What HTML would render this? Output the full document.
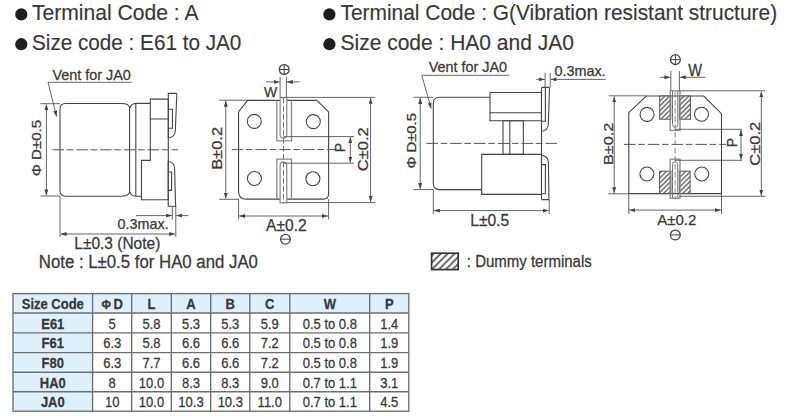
<!DOCTYPE html>
<html><head><meta charset="utf-8"><style>
html,body{margin:0;padding:0;background:#fff;}
body{width:788px;height:416px;overflow:hidden;position:relative;}
svg{position:absolute;left:0;top:0;}
text{font-family:"Liberation Sans",sans-serif;fill:#383838;stroke:#383838;stroke-width:0.25px;}
.t{font-size:20.6px;stroke-width:0.15px;}
.o{fill:none;stroke:#444;stroke-width:1.1;}
.g{fill:none;stroke:#8a8a8a;stroke-width:1.1;}
.d{fill:none;stroke:#555;stroke-width:0.9;}
.c{fill:none;stroke:#555;stroke-width:1;stroke-dasharray:11.5 2.7 6.6 3;}
.a{fill:#444;stroke:none;}
.lb{font-size:15px;}
.tb text{font-size:13px;text-anchor:middle;transform-box:fill-box;transform-origin:50% 50%;transform:scaleY(1.1);}
.sy{transform-box:fill-box;transform-origin:50% 50%;transform:scaleY(1.08);}
.tb .b{font-weight:bold;}
</style></head><body>
<svg width="788" height="416" viewBox="0 0 788 416">
<defs>
<marker id="ar" viewBox="0 0 6 4" refX="6" refY="2" markerWidth="6" markerHeight="4" orient="auto" markerUnits="userSpaceOnUse">
<path d="M0,0 L6,2 L0,4 Z" fill="#444"/>
</marker>
<pattern id="hatch" width="3.4" height="3.4" patternUnits="userSpaceOnUse" patternTransform="rotate(45)">
<rect width="3.4" height="3.4" fill="#fff"/>
<line x1="0.8" y1="0" x2="0.8" y2="3.4" stroke="#707070" stroke-width="1.5"/>
</pattern>
<pattern id="hatch2" width="4.9" height="4.9" patternUnits="userSpaceOnUse" patternTransform="rotate(45)">
<rect width="4.9" height="4.9" fill="#fff"/>
<line x1="1" y1="0" x2="1" y2="4.9" stroke="#555" stroke-width="1.7"/>
</pattern>
</defs>

<!-- Titles -->
<circle cx="21.3" cy="14.4" r="6.1" fill="#1e1e1e"/>
<text class="t" transform="translate(32,19.6) scale(1,1.07)" style="font-size:21.1px">Terminal Code : A</text>
<circle cx="21.3" cy="44.2" r="6.1" fill="#1e1e1e"/>
<text class="t" transform="translate(32,49.6) scale(1,1.08)" style="font-size:20.7px">Size code : E61 to JA0</text>
<circle cx="329.4" cy="14.4" r="6.1" fill="#1e1e1e"/>
<text class="t" transform="translate(340.5,19.6) scale(1,1.07)" style="font-size:20.93px">Terminal Code : G(Vibration resistant structure)</text>
<circle cx="329.4" cy="44.2" r="6.1" fill="#1e1e1e"/>
<text class="t" transform="translate(340.5,49.6) scale(1,1.07)" style="font-size:21px">Size code : HA0 and JA0</text>

<!-- ===== Left side view (A) ===== -->
<text class="sy" x="52.5" y="79.4" style="font-size:14.4px">Vent for JA0</text>
<path class="d" d="M48,82.3 H131.7"/>
<path class="d" d="M48,82.3 L56.6,116.5" marker-end="url(#ar)"/>
<!-- body -->
<path class="o" d="M65.5,103.5 H121.5 Q129.6,103.5 129.6,108.2 V191.6 Q129.6,196.2 121.5,196.2 H65.5 Q60,196.2 60,190.5 V109.2 Q60,103.5 65.5,103.5 Z"/>
<path class="o" d="M129.6,108.2 Q131.2,103.6 135.8,103.4 H150.3 M129.6,191.6 Q131.2,196.1 135.8,196.2 H141.5 M135.8,103.4 V196.2"/>
<path class="o" d="M150.3,160.4 V99.1 H168.3 V199.8 H141.5 V160.4 Z M150.3,119 H168.3"/>
<path class="o" d="M168.3,137.7 V93.4 H176.3 Q176.9,93.6 176.8,94.6 L175.3,131 Q174.8,137.2 168.3,137.7 Z M168.3,109.2 H172.4 V128.3 H168.3"/>
<path class="o" d="M168.2,161.5 Q174.2,162 174.6,168.5 L175.6,206.2 H168.2 Z M168.2,172 H171.6 V190.4 H168.2"/>
<path class="c" d="M52.5,149.8 H178"/>
<!-- D dim -->
<path class="d" d="M40.5,103.7 H60 M40.5,196 H60"/>
<path class="d" d="M46.4,150 V104.3" marker-end="url(#ar)"/>
<path class="d" d="M46.4,150 V195.4" marker-end="url(#ar)"/>
<text transform="translate(40.8,148) rotate(-90) scale(1.26,1)" text-anchor="middle" style="font-size:12px">Φ D±0.5</text>
<!-- L dim -->
<path class="d" d="M60,196 V237 M175.8,206 V237"/>
<path class="d" d="M118,234 H60.6" marker-end="url(#ar)"/>
<path class="d" d="M118,234 H175.2" marker-end="url(#ar)"/>
<text class="sy" x="74.3" y="248.2" style="font-size:15.5px">L±0.3 (Note)</text>
<!-- 0.3max -->
<path class="d" d="M172.3,206 V219.5"/>
<path class="d" d="M136,215.6 H172" marker-end="url(#ar)"/>
<path class="d" d="M188.5,215.6 H176.1" marker-end="url(#ar)"/>
<text x="117.6" y="228.8" style="font-size:14.4px">0.3max.</text>
<text class="sy" x="38.8" y="267.6" style="font-size:16.8px">Note : L±0.5 for HA0 and JA0</text>

<!-- ===== Left bottom view (A) ===== -->
<path class="o" d="M247.7,100.4 H316.8 L328.6,111.9 V193.8 Q328.6,199.1 323.3,199.1 H246.3 Q238.6,199.1 238.6,191.4 V111.7 Z"/>
<circle class="o" cx="254.3" cy="121.4" r="7"/>
<circle class="o" cx="313.3" cy="121.6" r="7"/>
<circle class="o" cx="254.4" cy="178.5" r="7"/>
<circle class="o" cx="312.9" cy="178.7" r="7"/>
<!-- terminals -->
<path fill="none" stroke="#888" stroke-width="1.3" d="M276.8,100.4 V140.9 H291.5 V100.4"/>
<path fill="#fff" stroke="#888" stroke-width="1.2" d="M280.1,97.4 V134.6 Q280.1,138.2 283.45,138.2 Q286.8,138.2 286.8,134.6 V97.4"/>
<path fill="none" stroke="#888" stroke-width="1.3" d="M276.8,199.1 V159.2 H291.5 V199.1"/>
<path fill="#fff" stroke="#888" stroke-width="1.2" d="M280.1,202.8 V165.8 Q280.1,162.2 283.45,162.2 Q286.8,162.2 286.8,165.8 V202.8 Z"/>
<path class="c" d="M231.7,149.6 H336"/>
<path class="c" d="M283.5,98 V203" style="stroke-dasharray:5.5 2.5;stroke:#666;stroke-width:0.9"/>
<!-- W -->
<path class="d" d="M280.1,76.8 V97.4 M286.4,76.8 V97.4"/>
<path class="d" d="M266,81.9 H279.6" marker-end="url(#ar)"/>
<path class="d" d="M299.7,81.9 H286.9" marker-end="url(#ar)"/>
<text x="264" y="97" style="font-size:14px">W</text>
<circle cx="284.2" cy="69.5" r="4.9" fill="none" stroke="#444" stroke-width="1.25"/>
<path d="M279.3,69.5 H289.1 M284.2,64.6 V74.4" stroke="#444" stroke-width="1"/>
<!-- B -->
<path class="d" d="M219.2,100.2 H247.7 M219.2,199.3 H239"/>
<path class="d" d="M225.8,150 V100.8" marker-end="url(#ar)"/>
<path class="d" d="M225.8,150 V198.7" marker-end="url(#ar)"/>
<text class="lb" transform="translate(221.6,148.4) rotate(-90) scale(1.1,1)" text-anchor="middle">B±0.2</text>
<!-- A -->
<path class="d" d="M238.6,199 V219.5 M328.6,199 V219.5"/>
<path class="d" d="M283,216 H239.2" marker-end="url(#ar)"/>
<path class="d" d="M283,216 H328" marker-end="url(#ar)"/>
<text x="286.4" y="231" class="lb" text-anchor="middle" style="font-size:15.6px">A±0.2</text>
<circle cx="285.5" cy="239.2" r="4.9" fill="none" stroke="#444" stroke-width="1.25"/>
<path d="M280.6,239.2 H290.4" stroke="#444" stroke-width="1"/>
<!-- C -->
<path class="d" d="M280.1,97.4 H375 M286.8,202.6 H375"/>
<path class="d" d="M370.6,150 V97.8" marker-end="url(#ar)"/>
<path class="d" d="M370.6,150 V201.9" marker-end="url(#ar)"/>
<text class="lb" transform="translate(368.4,149.2) rotate(-90) scale(1.1,1)" text-anchor="middle">C±0.2</text>
<!-- P -->
<path class="d" d="M283.3,136.6 H354 M283.3,163.2 H354"/>
<path class="d" d="M350.3,150 V137.2" marker-end="url(#ar)"/>
<path class="d" d="M350.3,150 V162.6" marker-end="url(#ar)"/>
<text transform="translate(345.4,147.7) rotate(-90)" text-anchor="middle" style="font-size:14px">P</text>

<!-- ===== Right side view (G) ===== -->
<text class="sy" x="428.7" y="71.9" style="font-size:14.4px">Vent for JA0</text>
<path class="d" d="M421.8,75.3 H509.3"/>
<path class="d" d="M421.8,75.3 L431.2,108.6" marker-end="url(#ar)"/>
<path class="o" d="M490,97.3 H439.3 Q433.3,97.3 433.3,103.3 V183.6 Q433.3,189.6 439.3,189.6 H481.7"/>
<path class="o" d="M490,92.5 H541.5 V120.8 H490 Z M490,112.7 H541.5"/>
<path class="o" d="M503,120.8 H523.3 V154.4 H503 Z M509.8,120.8 V154.4"/>
<path class="o" d="M481.7,154.4 H541.5 V194.4 H481.7 Z"/>
<path class="o" d="M541.5,87.4 V199.6"/>
<path class="o" d="M541.5,87.4 H549 Q549.6,87.6 549.5,88.5 L548.3,124.5 Q547.6,130.8 541.5,131.2 M541.5,121.3 H545.4 V87.4"/>
<path class="o" d="M541.5,155.4 Q548,155.8 548.4,162.5 L548.9,199.6 H541.5 M541.5,164.6 H545.4 V193.8 H541.5"/>
<path class="c" d="M426.4,143.4 H557"/>
<!-- D dim -->
<path class="d" d="M413.3,97.3 H433.3 M413.3,189.6 H433.3"/>
<path class="d" d="M420.2,143 V97.9" marker-end="url(#ar)"/>
<path class="d" d="M420.2,143 V189" marker-end="url(#ar)"/>
<text transform="translate(416,140.8) rotate(-90) scale(1.24,1)" text-anchor="middle" style="font-size:12px">Φ D±0.5</text>
<!-- L -->
<path class="d" d="M433.3,189.6 V214 M549.2,199.6 V214"/>
<path class="d" d="M490,210.6 H433.9" marker-end="url(#ar)"/>
<path class="d" d="M490,210.6 H548.6" marker-end="url(#ar)"/>
<text x="470.3" y="225.6" class="lb sy" style="font-size:15.6px">L±0.5</text>
<!-- 0.3max -->
<path class="d" d="M545.1,72.8 V87.4 M550.2,72.8 V87.4"/>
<path class="d" d="M536.2,79.4 H544.8" marker-end="url(#ar)"/>
<path class="d" d="M605.7,79.4 H550.5" marker-end="url(#ar)"/>
<text x="554.4" y="75.6" style="font-size:14.4px">0.3max.</text>

<!-- ===== Right bottom view (G) ===== -->
<path class="o" d="M646.2,96 H703.7 L721.5,113.7 V193.6 H628.8 V112.7 Z"/>
<circle class="o" cx="647.1" cy="114.4" r="7"/>
<circle class="o" cx="701.5" cy="114.2" r="7"/>
<circle class="o" cx="646.9" cy="174" r="7"/>
<circle class="o" cx="701.8" cy="174" r="7"/>
<rect x="659.7" y="96" width="11.1" height="23.2" fill="url(#hatch)" stroke="#555" stroke-width="1"/>
<rect x="679.4" y="96" width="11" height="23.2" fill="url(#hatch)" stroke="#555" stroke-width="1"/>
<rect x="659.6" y="171.2" width="11.3" height="22.4" fill="url(#hatch)" stroke="#555" stroke-width="1"/>
<rect x="679.3" y="171.2" width="10.8" height="22.4" fill="url(#hatch)" stroke="#555" stroke-width="1"/>
<rect x="670.2" y="90.8" width="9.8" height="39.6" fill="none" stroke="#888" stroke-width="1.3"/>
<path fill="none" stroke="#777" stroke-width="1" d="M672.5,90.8 V124.5 Q672.5,127.3 675.15,127.3 Q677.8,127.3 677.8,124.5 V90.8"/>
<rect x="670.2" y="159.1" width="9.8" height="39.1" fill="none" stroke="#888" stroke-width="1.3"/>
<path fill="none" stroke="#777" stroke-width="1" d="M672.5,198.2 V164.6 Q672.5,161.8 675.15,161.8 Q677.8,161.8 677.8,164.6 V198.2"/>
<path class="c" d="M624,144.4 H726"/>
<path class="c" d="M675.1,92 V199" style="stroke-dasharray:5.5 2.5;stroke:#777;stroke-width:0.9"/>
<!-- W -->
<path class="d" d="M670.8,71 V90.8 M679.4,71 V90.8"/>
<path class="d" d="M660.2,77.3 H670.4" marker-end="url(#ar)"/>
<path class="d" d="M705.4,77.3 H679.8" marker-end="url(#ar)"/>
<text transform="translate(688.3,75.8) scale(0.97,1.1)" style="font-size:15px">W</text>
<circle cx="675.4" cy="59.6" r="4.9" fill="none" stroke="#444" stroke-width="1.25"/>
<path d="M670.5,59.6 H680.3 M675.4,54.7 V64.5" stroke="#444" stroke-width="1"/>
<!-- B -->
<path class="d" d="M608.7,95.8 H646.2 M608.4,193.8 H628.8"/>
<path class="d" d="M614.2,145 V96.4" marker-end="url(#ar)"/>
<path class="d" d="M614.2,145 V193.2" marker-end="url(#ar)"/>
<text transform="translate(613.2,143.9) rotate(-90) scale(1.25,1)" text-anchor="middle" style="font-size:13px">B±0.2</text>
<!-- A -->
<path class="d" d="M628.8,193.6 V214 M721.5,193.6 V214"/>
<path class="d" d="M675,210.1 H629.4" marker-end="url(#ar)"/>
<path class="d" d="M675,210.1 H720.9" marker-end="url(#ar)"/>
<text x="676.7" y="224.5" class="lb" text-anchor="middle">A±0.2</text>
<circle cx="675.3" cy="234.9" r="4.9" fill="none" stroke="#444" stroke-width="1.25"/>
<path d="M670.4,234.9 H680.2" stroke="#444" stroke-width="1"/>
<!-- C -->
<path class="d" d="M679.4,90.8 H765 M679.5,196.3 H765.3"/>
<path class="d" d="M761.3,144 V91.4" marker-end="url(#ar)"/>
<path class="d" d="M761.3,144 V195.7" marker-end="url(#ar)"/>
<text class="lb" transform="translate(760,143.7) rotate(-90) scale(1.1,1)" text-anchor="middle">C±0.2</text>
<!-- P -->
<path class="d" d="M674.8,129.3 H742 M674.8,160.3 H742"/>
<path class="d" d="M741,145 V129.9" marker-end="url(#ar)"/>
<path class="d" d="M741,145 V159.7" marker-end="url(#ar)"/>
<text transform="translate(737.2,142.6) rotate(-90)" text-anchor="middle" style="font-size:14px">P</text>

<!-- Legend -->
<rect x="431.6" y="253.2" width="26.6" height="16.4" fill="url(#hatch2)" stroke="#333" stroke-width="1.7"/>
<text x="466.8" y="266.2" class="lb sy">: Dummy terminals</text>

<!-- ===== Table ===== -->
<g class="tb">
<rect x="13" y="293.6" width="395.8" height="19.4" fill="#dff0fb"/>
<rect x="13" y="293.6" width="79.6" height="117.6" fill="#dff0fb"/>
<g stroke="#6e6e6e" stroke-width="1.35" fill="none">
<rect x="13" y="293.6" width="395.8" height="117.6"/>
<path d="M13,313 H408.8 M13,332.8 H408.8 M13,352.6 H408.8 M13,372.2 H408.8 M13,391.7 H408.8"/>
<path d="M92.6,293.6 V411.2 M131.7,293.6 V411.2 M171.3,293.6 V411.2 M210.7,293.6 V411.2 M249.8,293.6 V411.2 M289.8,293.6 V411.2 M369.7,293.6 V411.2"/>
</g>
<text class="b" x="52.8" y="308.4">Size Code</text>
<text class="b" x="112.2" y="308.4"><tspan style="font-size:11.5px">Φ</tspan>&#8201;D</text>
<text class="b" x="151.5" y="308.4">L</text>
<text class="b" x="191" y="308.4">A</text>
<text class="b" x="230.3" y="308.4">B</text>
<text class="b" x="269.8" y="308.4">C</text>
<text class="b" x="329.8" y="308.4">W</text>
<text class="b" x="389.3" y="308.4">P</text>

<text class="b" x="52.8" y="328.1">E61</text>
<text x="112.2" y="328.1">5</text><text x="151.5" y="328.1">5.8</text><text x="191" y="328.1">5.3</text><text x="230.3" y="328.1">5.3</text><text x="269.8" y="328.1">5.9</text><text x="329.8" y="328.1">0.5 to 0.8</text><text x="389.3" y="328.1">1.4</text>

<text class="b" x="52.8" y="347.9">F61</text>
<text x="112.2" y="347.9">6.3</text><text x="151.5" y="347.9">5.8</text><text x="191" y="347.9">6.6</text><text x="230.3" y="347.9">6.6</text><text x="269.8" y="347.9">7.2</text><text x="329.8" y="347.9">0.5 to 0.8</text><text x="389.3" y="347.9">1.9</text>

<text class="b" x="52.8" y="367.6">F80</text>
<text x="112.2" y="367.6">6.3</text><text x="151.5" y="367.6">7.7</text><text x="191" y="367.6">6.6</text><text x="230.3" y="367.6">6.6</text><text x="269.8" y="367.6">7.2</text><text x="329.8" y="367.6">0.5 to 0.8</text><text x="389.3" y="367.6">1.9</text>

<text class="b" x="52.8" y="387.2">HA0</text>
<text x="112.2" y="387.2">8</text><text x="151.5" y="387.2">10.0</text><text x="191" y="387.2">8.3</text><text x="230.3" y="387.2">8.3</text><text x="269.8" y="387.2">9.0</text><text x="329.8" y="387.2">0.7 to 1.1</text><text x="389.3" y="387.2">3.1</text>

<text class="b" x="52.8" y="406.7">JA0</text>
<text x="112.2" y="406.7">10</text><text x="151.5" y="406.7">10.0</text><text x="191" y="406.7">10.3</text><text x="230.3" y="406.7">10.3</text><text x="269.8" y="406.7">11.0</text><text x="329.8" y="406.7">0.7 to 1.1</text><text x="389.3" y="406.7">4.5</text>
</g>
</svg>
</body></html>
